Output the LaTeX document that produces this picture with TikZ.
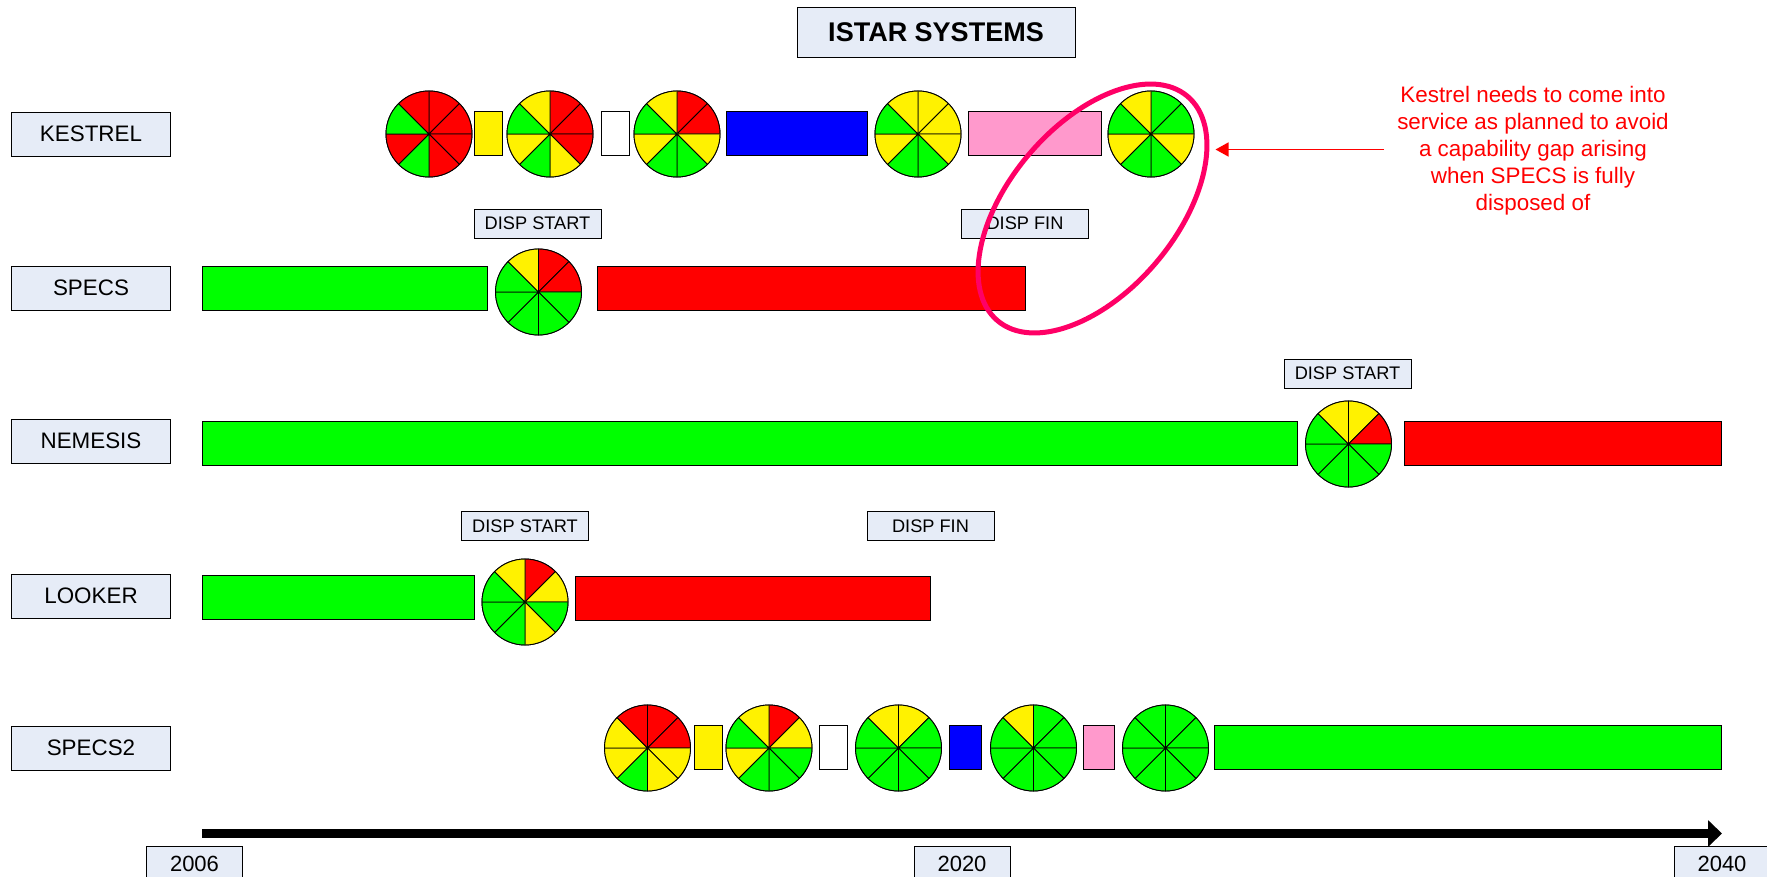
\documentclass[tikz,border=0pt]{standalone}
\usepackage{fontspec}
\setmainfont{Liberation Sans}
\usetikzlibrary{arrows.meta,shapes.geometric}
\definecolor{labelblue}{HTML}{E6ECF7}
\definecolor{barpink}{HTML}{FF99CC}
\definecolor{ringpink}{HTML}{FF0066}
\tikzset{
    rowlabel/.style={draw, fill=labelblue, minimum width=159pt, minimum height=44pt, inner sep=0pt, font=\fontsize{22.4}{26}\selectfont},
    displabel/.style={draw, fill=labelblue, minimum width=127pt, minimum height=29pt, inner sep=0pt, font=\fontsize{18.2}{21}\selectfont},
    yearlabel/.style={draw, fill=labelblue, minimum width=96pt, minimum height=36pt, inner sep=0pt, font=\fontsize{22}{26}\selectfont},
    barbox/.style={draw, minimum height=44pt, inner sep=0pt}
}
% name, x, y, wedge colours clockwise from the top
\newcommand{\statuspie}[4]{
    \node[draw, circle, minimum size=86pt, inner sep=0pt] (#1) at (#2,#3) {};
    \foreach \wedge [count=\i, evaluate=\i as \a using -135+45*\i] in {#4}
        \filldraw[fill=\wedge] (#1.center) -- ++(\a:43) arc[start angle=\a, delta angle=45, radius=43] -- cycle;
}
\begin{document}
\begin{tikzpicture}[x=1pt, y=-1pt, line width=.9pt]
    \useasboundingbox (0,0) rectangle (1767,877);

    \node[draw, fill=labelblue, minimum width=278pt, minimum height=50pt, inner sep=0pt, font=\fontsize{27}{32}\selectfont\bfseries] (title) at (936,32) {ISTAR SYSTEMS};

    \foreach \rowname/\rowtext/\rowy in {kestrel/KESTREL/134, specs/SPECS/288, nemesis/NEMESIS/441, looker/LOOKER/596, specstwo/SPECS2/748}
        \node[rowlabel] (\rowname) at (91,\rowy) {\rowtext};

    % kestrel
    \statuspie{kpieone}{429}{134}{red,red,red,red,green,red,green,red}
    \node[barbox, fill=yellow, minimum width=28pt] (kyellow) at (488.5,133.5) {};
    \statuspie{kpietwo}{550}{134}{red,red,red,yellow,green,yellow,green,yellow}
    \node[barbox, fill=white, minimum width=28pt] (kwhite) at (615,133.5) {};
    \statuspie{kpiethree}{677}{134}{red,red,yellow,green,green,yellow,green,yellow}
    \node[barbox, fill=blue, minimum width=141pt] (kblue) at (796.5,133.5) {};
    \statuspie{kpiefour}{918}{134}{yellow,yellow,yellow,green,green,yellow,green,yellow}
    \node[barbox, fill=barpink, minimum width=133pt] (kpink) at (1034.5,133.5) {};
    \statuspie{kpiefive}{1151}{134}{green,green,yellow,green,green,yellow,green,yellow}

    % specs
    \node[barbox, fill=green, minimum width=285pt] (sgreen) at (344.5,288.5) {};
    \statuspie{spie}{538.5}{292}{red,red,green,green,green,green,green,yellow}
    \node[barbox, fill=red, minimum width=428pt] (sred) at (811.5,288.5) {};
    \node[displabel] (sstart) at (537.5,223.5) {DISP START};
    \node[displabel] (sfin) at (1025,223.5) {DISP FIN};

    % nemesis
    \node[barbox, fill=green, minimum width=1095pt] (ngreen) at (749.5,443.5) {};
    \statuspie{npie}{1348.5}{444}{yellow,red,green,green,green,green,green,yellow}
    \node[barbox, fill=red, minimum width=317pt] (nred) at (1562.5,443.5) {};
    \node[displabel] (nstart) at (1347.5,373.5) {DISP START};

    % looker
    \node[barbox, fill=green, minimum width=272pt] (lgreen) at (338,597.5) {};
    \statuspie{lpie}{525}{602}{red,yellow,green,yellow,green,green,green,yellow}
    \node[barbox, fill=red, minimum width=355pt] (lred) at (752.5,598.5) {};
    \node[displabel] (lstart) at (525,526) {DISP START};
    \node[displabel] (lfin) at (930.5,526) {DISP FIN};

    % specs2
    \statuspie{tpieone}{647.5}{748}{red,red,yellow,yellow,green,yellow,yellow,red}
    \node[barbox, fill=yellow, minimum width=28pt] (tyellow) at (708.5,747) {};
    \statuspie{tpietwo}{769}{748}{red,yellow,green,green,green,yellow,green,yellow}
    \node[barbox, fill=white, minimum width=28pt] (twhite) at (833.5,747) {};
    \statuspie{tpiethree}{898.5}{748}{yellow,green,green,green,green,green,green,yellow}
    \node[barbox, fill=blue, minimum width=32pt] (tblue) at (965,747) {};
    \statuspie{tpiefour}{1033.5}{748}{green,green,green,green,green,green,green,yellow}
    \node[barbox, fill=barpink, minimum width=31pt] (tpink) at (1098.5,747) {};
    \statuspie{tpiefive}{1165.5}{748}{green,green,green,green,green,green,green,green}
    \node[barbox, fill=green, minimum width=507pt] (tgreen) at (1467.5,747) {};

    % time axis
    \node[yearlabel] (yearstart) at (194.5,864) {2006};
    \node[yearlabel] (yearmid) at (962,864) {2020};
    \node[yearlabel] (yearend) at (1722,864) {2040};
    \coordinate (axisstart) at (202,833.5);
    \coordinate (axisend) at (1722,833.5);
    \draw[line width=9pt, -{Triangle[length=14pt, width=26pt]}] (axisstart) -- (axisend);

    % note
    \node[draw=ringpink, line width=5pt, ellipse, rotate=49.7, minimum width=294pt, minimum height=167pt, inner sep=0pt] (ring) at (1092.5,208.5) {};
    \node[text=red, align=center, font=\fontsize{22.4}{27}\selectfont] (note) at (1533,150.5) {Kestrel needs to come into\\service as planned to avoid\\a capability gap arising\\when SPECS is fully\\disposed of};
    \coordinate (notestart) at (1384,149.5);
    \coordinate (notetip) at (1215.5,149.5);
    \draw[red, line width=1.4pt, -{Triangle[length=13pt, width=14pt]}] (notestart) -- (notetip);
\end{tikzpicture}
\end{document}
